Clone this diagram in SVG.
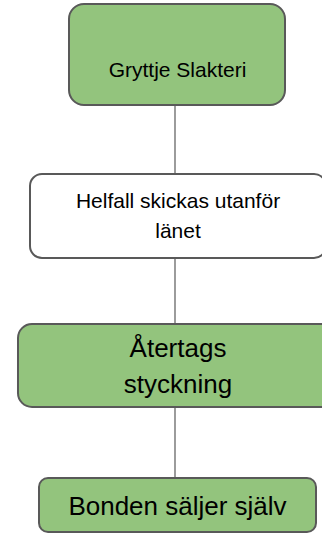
<svg xmlns="http://www.w3.org/2000/svg" width="322" height="534" viewBox="0 0 322 534">
  <style>
    .box { stroke: #595959; stroke-width: 2; }
    .green { fill: #93c47d; }
    .white { fill: #ffffff; }
    .conn { stroke: #595959; stroke-width: 1.2; fill: none; }
    text { font-family: "Liberation Sans", Arial, sans-serif; fill: #000000; text-anchor: middle; }
    .t1 { font-size: 21px; }
    .t2 { font-size: 26px; }
  </style>
  <rect width="322" height="534" fill="#ffffff"/>
  <g id="connectors">
    <line class="conn" x1="175" y1="105" x2="175" y2="174"/>
    <line class="conn" x1="175" y1="258" x2="175" y2="324"/>
    <line class="conn" x1="175" y1="407" x2="175" y2="478"/>
  </g>
  <g id="node-gryttje">
    <rect class="box green" x="69" y="4" width="216" height="101" rx="15" ry="15"/>
    <text class="t1" x="177.5" y="77">Gryttje Slakteri</text>
  </g>
  <g id="node-helfall">
    <rect class="box white" x="30" y="174" width="296" height="84" rx="12" ry="12"/>
    <text class="t1" x="178" y="208">Helfall skickas utanför</text>
    <text class="t1" x="178" y="238">länet</text>
  </g>
  <g id="node-atertags">
    <rect class="box green" x="18" y="324" width="320" height="83" rx="14" ry="14"/>
    <text class="t2" x="178" y="357">Återtags</text>
    <text class="t2" x="178" y="393">styckning</text>
  </g>
  <g id="node-bonden">
    <rect class="box green" x="39" y="478" width="277" height="54" rx="9" ry="9"/>
    <text class="t2" x="177.5" y="515">Bonden säljer själv</text>
  </g>
</svg>
